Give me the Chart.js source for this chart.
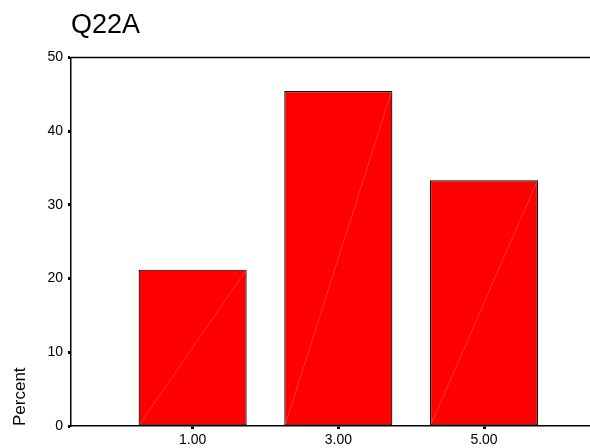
<!DOCTYPE html>
<html>
<head>
<meta charset="utf-8">
<script src="https://cdn.jsdelivr.net/npm/chart.js@4/dist/chart.umd.min.js"></script>
<style>
  html, body { margin: 0; padding: 0; background: #fff; }
  #wrap { width: 590px; height: 448px; }
</style>
</head>
<body>
<div id="wrap"><canvas id="chart" width="590" height="448"></canvas></div>
<script>
const xValues = [1, 3, 5];
const xLabels = ['1.00', '3.00', '5.00'];
const percents = [21.21, 45.45, 33.33];
const yTicks = [0, 10, 20, 30, 40, 50];

const FONT = 'Liberation Sans, Arial, sans-serif';

// top frame line + the faint diagonal SPSS draws across each bar
const framePlugin = {
  id: 'frame',
  afterDatasetsDraw(chart) {
    const { ctx, chartArea } = chart;
    ctx.save();
    ctx.strokeStyle = 'rgba(255, 160, 160, 0.55)';
    ctx.lineWidth = 0.6;
    for (const bar of chart.getDatasetMeta(0).data) {
      const { x, y, base, width } = bar.getProps(['x', 'y', 'base', 'width'], true);
      ctx.beginPath();
      ctx.moveTo(x - width / 2 + 1, base - 1);
      ctx.lineTo(x + width / 2 - 1, y + 1);
      ctx.stroke();
    }
    ctx.strokeStyle = '#000';
    ctx.lineWidth = 1.5;
    ctx.beginPath();
    ctx.moveTo(chartArea.left, chartArea.top);
    ctx.lineTo(chartArea.right, chartArea.top);
    ctx.stroke();
    ctx.restore();
  },
};

new Chart(document.querySelector('#chart'), {
  type: 'bar',
  data: {
    datasets: [
      {
        data: xValues.map((x, i) => ({ x, y: percents[i] })),
        backgroundColor: '#ff0000',
        borderColor: '#000',
        borderWidth: 1.2,
        borderSkipped: false,
        barPercentage: 0.742,
        categoryPercentage: 1,
      },
    ],
  },
  options: {
    responsive: false,
    animation: false,
    plugins: {
      legend: { display: false },
      tooltip: { enabled: false },
      title: {
        display: true,
        text: 'Q22A',
        align: 'start',
        fullSize: false,
        color: '#000',
        font: { family: FONT, size: 27, weight: 'normal' },
        padding: { top: 9, bottom: 16 },
      },
    },
    scales: {
      x: {
        type: 'linear',
        offset: false,
        min: -0.67,
        max: 6.455,
        afterBuildTicks(scale) {
          scale.ticks = xValues.map((value) => ({ value }));
        },
        afterFit(scale) {
          scale.height = 22;
        },
        ticks: {
          autoSkip: false,
          maxRotation: 0,
          padding: 3,
          color: '#000',
          font: { family: FONT, size: 14 },
          callback: (value) => xLabels[xValues.indexOf(value)],
        },
        grid: {
          offset: false,
          drawOnChartArea: false,
          tickLength: 3,
          tickWidth: 3,
          tickColor: '#000',
        },
        border: { color: '#000', width: 1.5 },
      },
      y: {
        min: 0,
        max: 50,
        afterBuildTicks(scale) {
          scale.ticks = yTicks.map((value) => ({ value }));
        },
        afterFit(scale) {
          scale.width = 71;
        },
        ticks: {
          padding: 5,
          color: '#000',
          font: { family: FONT, size: 14 },
        },
        grid: {
          drawOnChartArea: false,
          tickLength: 3,
          tickWidth: 3,
          tickColor: '#000',
        },
        border: { color: '#000', width: 1.5 },
        title: {
          display: true,
          text: 'Percent',
          align: 'start',
          color: '#000',
          font: { family: FONT, size: 17 },
          padding: { top: 10, bottom: 0 },
        },
      },
    },
  },
  plugins: [framePlugin],
});
</script>
</body>
</html>
